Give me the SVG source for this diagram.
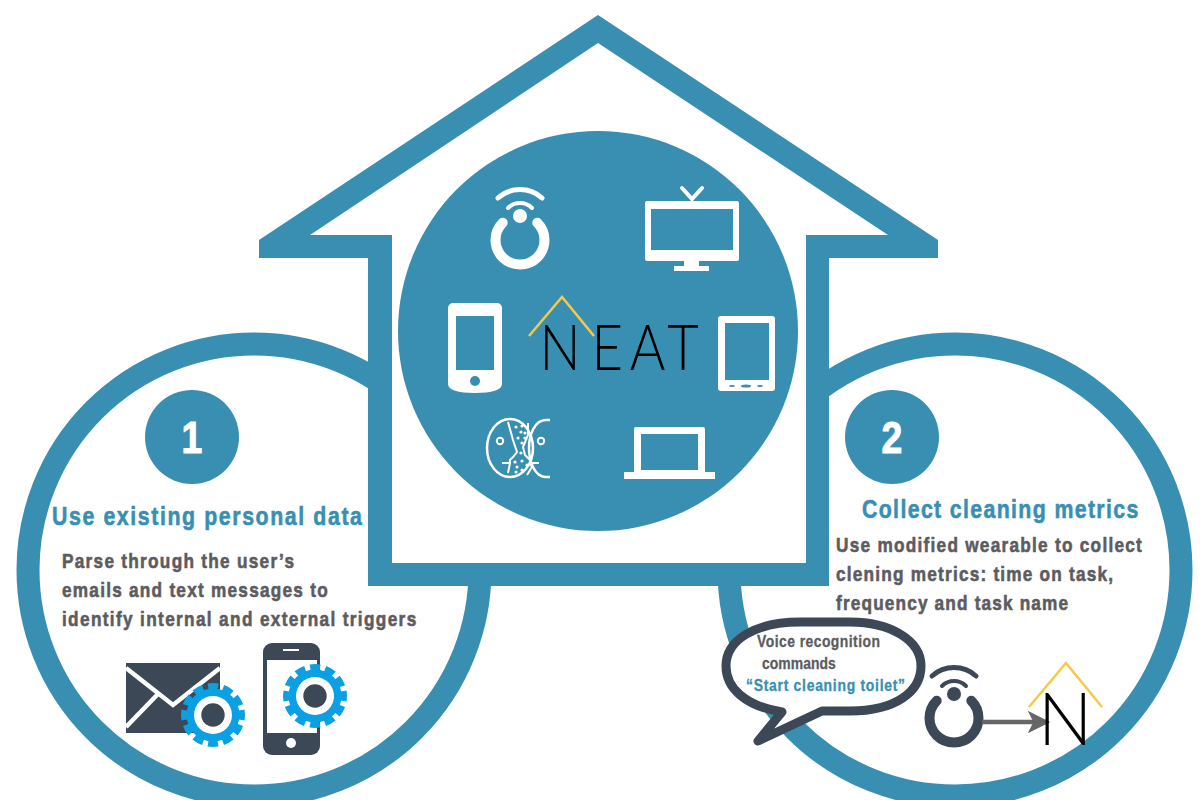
<svg xmlns="http://www.w3.org/2000/svg" xmlns:xlink="http://www.w3.org/1999/xlink" width="1200" height="800" viewBox="0 0 1200 800">
<style>
.ti,.bd,.bs,.num{font-family:"Liberation Sans",Arimo,sans-serif;font-weight:700}
.ti{font-size:26px;fill:#388fb2;stroke:#388fb2;stroke-width:.6}
.bd{font-size:21px;fill:#5c5c60;stroke:#5c5c60;stroke-width:.6}
.bs{font-size:17px;fill:#5c5c60;stroke:#5c5c60;stroke-width:.3}
.bt{fill:#388fb2;stroke:#388fb2}
.num{font-size:44px;fill:#fff;stroke:#fff;stroke-width:1;text-anchor:middle}
.w{fill:#fff}.t{fill:#388fb2}.d{fill:#3c4856}
.logo{font-family:Lato,"Liberation Sans",sans-serif;font-weight:300;fill:#000}
.roof{fill:none;stroke:#f5c94a;stroke-width:2.5}
</style>
<defs>
<g id="ring" fill="none" stroke="currentColor" stroke-linecap="round">
<path d="M-17.3,-17.3A24.5,24.5 0 1 0 17.3,-17.3" stroke-width="10"/>
<path d="M-22,-42A33,33 0 0 1 22,-42" stroke-width="5"/>
<path d="M-12,-32A17,17 0 0 1 12,-32" stroke-width="4"/>
<circle cx="0" cy="-24" r="7" fill="currentColor" stroke="none"/>
</g>
<g id="gear">
<circle r="26.5" fill="#0b9fe3"/>
<circle r="28.5" fill="none" stroke="#0b9fe3" stroke-width="7" stroke-dasharray="9.8 5.12" transform="rotate(-10)"/>
<circle r="19" fill="#fff"/>
<circle r="11.7" fill="#3c4856"/>
</g>
<marker id="ah" viewBox="0 0 10 10" refX="9" refY="5" markerWidth="5" markerHeight="5" markerUnits="strokeWidth" orient="auto"><path d="M0,0L10,5L0,10L2.5,5Z" fill="#666"/></marker>
</defs>

<g id="circle-left"><circle cx="254" cy="570" r="226" fill="#fff" stroke="#388fb2" stroke-width="23"/></g>
<g id="circle-right"><circle cx="955" cy="570" r="226" fill="#fff" stroke="#388fb2" stroke-width="23"/></g>

<g id="house">
<path class="t" d="M598,15L938,240V258H829V586H368V258H259V240Z"/>
<path class="w" d="M598,43L888,235H806V563H392V235H310Z"/>
<circle class="t" cx="598" cy="331" r="200"/>
</g>

<g id="icon-ring" color="#fff"><use href="#ring" xlink:href="#ring" x="520" y="240"/></g>
<g id="icon-tv">
<path class="w" fill-rule="evenodd" d="M647,201H737a2,2 0 0 1 2,2V259a2,2 0 0 1 -2,2H699V266H709V271H674V266H684V261H647a2,2 0 0 1 -2,-2V203a2,2 0 0 1 2,-2ZM651,209V250H733V209Z"/>
<path d="M682,188L692,199L702,188" fill="none" stroke="#fff" stroke-width="4" stroke-linecap="round"/>
</g>
<g id="icon-phone">
<path class="w" fill-rule="evenodd" d="M453,303H497a5,5 0 0 1 5,5V384c0,6 -10,9 -27,9s-27,-3 -27,-9V308a5,5 0 0 1 5,-5ZM456,316V370H494V316Z"/>
<circle class="t" cx="475" cy="381" r="5"/>
</g>
<g id="icon-tablet">
<rect class="w" x="718" y="316" width="57" height="75" rx="3"/>
<rect class="t" x="725" y="323" width="44" height="57"/>
<ellipse class="t" cx="746" cy="386" rx="5" ry="1.5"/><ellipse class="t" cx="732" cy="386" rx="3" ry="1"/><ellipse class="t" cx="760" cy="386" rx="3" ry="1"/>
</g>
<g id="icon-laptop">
<path class="w" fill-rule="evenodd" d="M636,427H703a2,2 0 0 1 2,2V472H715V479H624V472H634V429a2,2 0 0 1 2,-2ZM641,434V470H698V434Z"/>
</g>
<g id="icon-face" fill="none" stroke="#fff" stroke-width="2.5">
<ellipse cx="510" cy="448" rx="23" ry="29"/>
<path d="M550,420H546C534,420 529,436 529,448C529,460 534,477 546,477H550"/>
<path d="M508,422L513,440L517,452L513,457L510,460V463H502M510,463L508,473M528,423V435L523,447L525,455L530,460V463H539M530,463L532,467L527,475" stroke-width="2"/>
<circle cx="500" cy="441" r="3.2" stroke-width="2"/><circle cx="541" cy="441" r="3.2" stroke-width="2"/>
<g fill="#fff" stroke="none">
<circle cx="516" cy="427" r="1.6"/><circle cx="522" cy="426" r="1.6"/><circle cx="521" cy="432" r="1.6"/><circle cx="525" cy="433" r="1.6"/><circle cx="518" cy="438" r="1.6"/><circle cx="525" cy="438" r="1.6"/><circle cx="522" cy="443" r="1.6"/><circle cx="521" cy="453" r="1.6"/><circle cx="515" cy="462" r="1.6"/><circle cx="522" cy="461" r="1.6"/><circle cx="527" cy="465" r="1.6"/><circle cx="517" cy="467" r="1.6"/><circle cx="522" cy="470" r="1.6"/><circle cx="516" cy="472" r="1.6"/>
</g>
</g>
<g id="logo-neat">
<text class="logo" transform="translate(0,370) scale(.85,1)" x="634.6 695.8 741 785" font-size="64">NEAT</text>
<path class="roof" d="M529,336L562,297L594,336"/>
</g>

<g id="badge-1"><circle class="t" cx="192" cy="437" r="47"/><text class="num" transform="translate(192,453) scale(.85,1)">1</text></g>
<g id="badge-2"><circle class="t" cx="892" cy="437" r="47"/><text class="num" transform="translate(892,453) scale(.85,1)">2</text></g>

<g id="text-left">
<text class="ti" transform="translate(52,525) scale(.82,1)" textLength="378">Use existing personal data</text>
<text class="bd" transform="translate(62,568) scale(.82,1)" textLength="283">Parse through the user’s</text>
<text class="bd" transform="translate(62,597) scale(.82,1)" textLength="324">emails and text messages to</text>
<text class="bd" transform="translate(62,626) scale(.82,1)" textLength="432">identify internal and external triggers</text>
</g>
<g id="text-right">
<text class="ti" transform="translate(862,518) scale(.82,1)" textLength="337">Collect cleaning metrics</text>
<text class="bd" transform="translate(836,552) scale(.82,1)" textLength="373">Use modified wearable to collect</text>
<text class="bd" transform="translate(836,581) scale(.82,1)" textLength="338">clening metrics: time on task,</text>
<text class="bd" transform="translate(836,610) scale(.82,1)" textLength="283">frequency and task name</text>
</g>

<g id="envelope">
<rect class="d" x="126" y="663" width="94" height="70"/>
<path d="M126,668L173,705L220,668M126,727L157,695" fill="none" stroke="#fff" stroke-width="4.5"/>
<use href="#gear" xlink:href="#gear" x="213" y="715"/>
</g>
<g id="phone-gear">
<rect class="d" x="263" y="643" width="57" height="112" rx="9"/>
<rect class="w" x="267" y="660" width="50" height="73"/>
<rect class="w" x="283" y="649" width="16" height="2"/>
<circle class="w" cx="291" cy="743" r="5"/>
<use href="#gear" xlink:href="#gear" x="315" y="696"/>
</g>

<g id="bubble">
<path fill="#fff" stroke="#3c4856" stroke-width="9" stroke-linejoin="round" d="M782,712C745,706 726,688 726,666C726,640 755,622 800,622H850C890,622 921,640 921,666C921,692 895,711 850,711H822L758,741Z"/>
<text class="bs" transform="translate(757,647) scale(.82,1)" textLength="150">Voice recognition</text>
<text class="bs" transform="translate(762,669) scale(.82,1)" textLength="90">commands</text>
<text class="bs bt" transform="translate(746,691) scale(.82,1)" textLength="194" style="fill:#388fb2;stroke:#388fb2">“Start cleaning toilet”</text>
</g>
<g id="icon-ring-dark" color="#3c4856"><use href="#ring" xlink:href="#ring" x="954" y="718"/></g>
<g id="connectors"><path d="M982,722H1048" stroke="#666" stroke-width="4.5" fill="none" marker-end="url(#ah)"/></g>
<g id="logo-n">
<text class="logo" x="1038" y="745" font-size="72">N</text>
<path class="roof" d="M1029,707L1066,663L1102,707"/>
</g>
</svg>
